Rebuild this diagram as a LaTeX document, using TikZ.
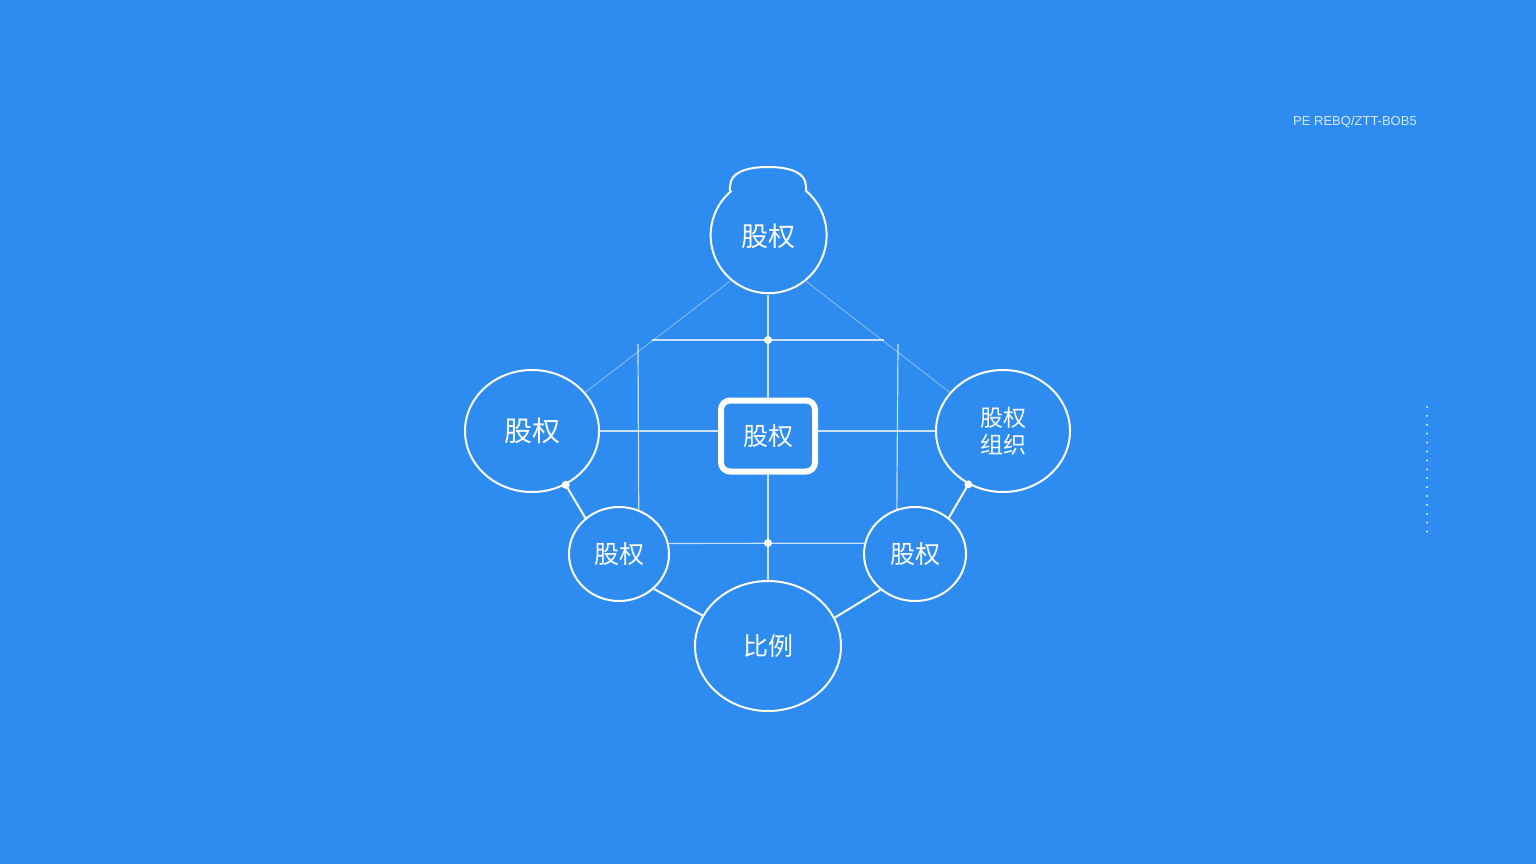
\documentclass[tikz,border=0pt]{standalone}
\usepackage{fontspec}
\setmainfont{Liberation Sans}
\newfontfamily\cjk{Noto Sans CJK SC}
\usetikzlibrary{shapes.geometric}
\definecolor{bgblue}{RGB}{46,139,240}
\tikzset{
  bubble/.style={ellipse,draw=white,line width=2pt,inner sep=0pt,text=white,
    align=center,font=\cjk\fontsize{25}{29}\selectfont},
  hub/.style={rectangle,draw=white,line width=6pt,rounded corners=9pt,
    minimum width=94pt,minimum height=71pt,text=white,font=\cjk\fontsize{25}{29}\selectfont},
  link/.style={white,line width=2pt},
  grid/.style={white,opacity=0.75,line width=1.2pt},
  faint/.style={white,opacity=0.45,line width=0.8pt},
  joint/.style={circle,fill=white,inner sep=0pt,minimum size=8pt},
}

\begin{document}
\begin{tikzpicture}[x=1pt,y=-1pt]
  \fill[bgblue] (0,0) rectangle (1536,864);

  % nodes
  \node[bubble,draw=none,minimum width=116pt,minimum height=116pt,font=\cjk\fontsize{27}{31}\selectfont]
    (top) at (768,236) {股权};
  \node[bubble,minimum width=134pt,minimum height=122pt,font=\cjk\fontsize{28}{32}\selectfont]
    (left) at (532,431) {股权};
  \node[bubble,minimum width=134pt,minimum height=122pt,font=\cjk\fontsize{23}{27}\selectfont]
    (right) at (1003,431) {股权\\组织};
  \node[hub] (core) at (768,436) {股权};
  \node[bubble,minimum width=100pt,minimum height=94pt] (lowl) at (619,554) {股权};
  \node[bubble,minimum width=102pt,minimum height=94pt] (lowr) at (915,554) {股权};
  \node[bubble,minimum width=146pt,minimum height=130pt] (base) at (768,646) {比例};

  % outline of the top bubble, with its cap
  \draw[link] (top.130) .. controls +(-1,-4) and +(0,3) .. (731,181)
    .. controls (735,170) and (752,167) .. (768,167)
    .. controls (784,167) and (801,170) .. (805,181)
    .. controls +(0,3) and +(1,-4) .. (top.50)
    arc[start angle=50,end angle=-230,radius=58pt];

  % grid
  \coordinate (upL) at (652,340);
  \coordinate (upR) at (884,340);
  \coordinate (gl) at (638,344);
  \coordinate (gr) at (898,344);
  \draw[grid] (upL) -- (upR);
  \draw[grid] (gl) -- (lowl.66);
  \draw[grid] (gr) -- (lowr.112);
  \draw[grid] (top.south) -- (core.north);
  \draw[grid] (core.south) -- (base.north);
  \draw[grid] (left.east) -- (left.east -| core.west);
  \draw[grid] (right.west) -- (right.west -| core.east);
  \draw[grid] (lowl.12) -- (lowr.168);
  \node[joint] (jtop) at (768,340) {};
  \node[joint] (jmid) at (768,543) {};

  % diagonals
  \draw[faint] (top.230) -- (left.36);
  \draw[faint] (top.310) -- (right.144);

  % links
  \draw[link] (lowl.133) -- (left.302);
  \draw[link] (lowr.47) -- (right.237);
  \draw[link] (lowl.315) -- (base.155);
  \draw[link] (lowr.226) -- (base.23);
  \node[joint] (jl) at (left.302) {};
  \node[joint] (jr) at (right.237) {};

  % side marks
  \coordinate (dotA) at (1427,407);
  \coordinate (dotB) at (1427,532);
  \draw[white,line width=2pt,line cap=round,dash pattern=on 0pt off 8.9pt] (dotA) -- (dotB);
  \node[anchor=west,text=white!80!bgblue,font=\fontsize{13}{15}\selectfont,inner sep=0pt]
    (tag) at (1293,122) {PE REBQ/ZTT-BOB5};
\end{tikzpicture}
\end{document}
